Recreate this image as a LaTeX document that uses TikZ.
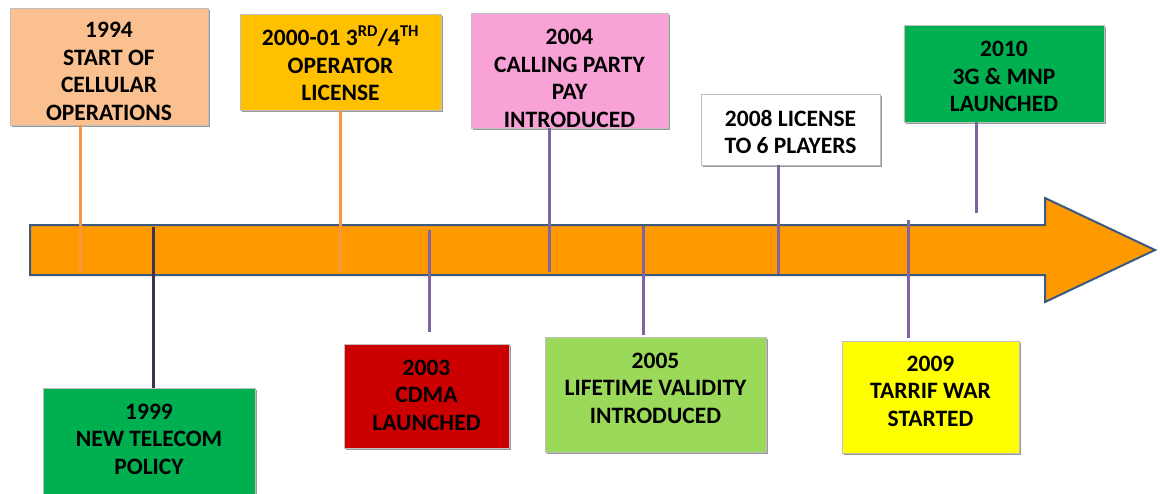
\documentclass[tikz,border=0pt]{standalone}
\usepackage{fontspec}
\setmainfont{Carlito}
\usetikzlibrary{shadows}
\definecolor{peach}{HTML}{FAC090}
\definecolor{gold}{HTML}{FFC000}
\definecolor{pinkbox}{HTML}{F9A2D8}
\definecolor{greenbox}{HTML}{00B050}
\definecolor{redbox}{HTML}{CC0000}
\definecolor{lgreen}{HTML}{9BD95A}
\definecolor{ybox}{HTML}{FFFF00}
\definecolor{arrowfill}{HTML}{FF9900}
\definecolor{arrowline}{HTML}{3A5A80}
\definecolor{lorange}{HTML}{F79646}
\definecolor{lpurple}{HTML}{8064A2}
\definecolor{dpurple}{HTML}{3F3151}
\tikzset{
  evbox/.style={draw=gray!50, line width=0.8pt, inner sep=0pt,
    drop shadow={shadow xshift=1.8pt, shadow yshift=-1.8pt, opacity=0.4, fill=black}},
  evtext/.style={inner sep=0pt, align=center,
    font=\fontsize{23.5}{27.5}\selectfont\bfseries, text=black},
  tick/.style={line width=3pt},
}
\begin{document}
\begin{tikzpicture}[x=1pt,y=-1pt]
\useasboundingbox (0,0) rectangle (1160,493);
% arrow
\draw[fill=arrowfill, draw=arrowline, line width=2pt, line join=miter]
  (30,225) -- (1045,225) -- (1045,198) -- (1155,250) -- (1045,302) -- (1045,275) -- (30,275) -- cycle;
% boxes
\node[evbox, fill=peach, minimum width=198pt, minimum height=117pt] (b1994) at (109,66.5) {};
\node[evbox, fill=gold, minimum width=201pt, minimum height=96pt] (b2000) at (340.5,62) {};
\node[evbox, fill=pinkbox, minimum width=197pt, minimum height=115pt] (b2004) at (569.5,70.5) {};
\node[evbox, fill=white, minimum width=179pt, minimum height=71pt] (b2008) at (790.5,129.5) {};
\node[evbox, fill=greenbox, minimum width=200pt, minimum height=97pt] (b2010) at (1004,73.5) {};
\node[evbox, fill=greenbox, minimum width=212pt, minimum height=110pt] (b1999) at (149,443) {};
\node[evbox, fill=redbox, minimum width=165pt, minimum height=104pt] (b2003) at (426.5,396) {};
\node[evbox, fill=lgreen, minimum width=221pt, minimum height=115pt] (b2005) at (655.5,394.5) {};
\node[evbox, fill=ybox, minimum width=177pt, minimum height=112pt] (b2009) at (930.5,397) {};
% texts
\node[evtext, yshift=-5pt] (x1994) at (b1994.center) {1994\\START OF\\CELLULAR\\OPERATIONS};
\node[evtext, yshift=-1.5pt] (x2000) at (b2000.center) {2000-01 3\textsuperscript{RD}/4\textsuperscript{TH}\\OPERATOR\\LICENSE};
\node[evtext, yshift=-8pt] (x2004) at (b2004.center) {2004\\CALLING PARTY\\PAY\\INTRODUCED};
\node[evtext, yshift=-2.5pt] (x2008) at (b2008.center) {2008 LICENSE\\TO 6 PLAYERS};
\node[evtext, yshift=-3pt] (x2010) at (b2010.center) {2010\\3G \& MNP\\LAUNCHED};
\node[evtext, yshift=4pt] (x1999) at (b1999.center) {1999\\NEW TELECOM\\POLICY};
\node[evtext, yshift=1pt] (x2003) at (b2003.center) {2003\\CDMA\\LAUNCHED};
\node[evtext, yshift=6.5pt] (x2005) at (b2005.center) {2005\\LIFETIME VALIDITY\\INTRODUCED};
\node[evtext, yshift=6pt] (x2009) at (b2009.center) {2009\\TARRIF WAR\\STARTED};
% tick end points
\coordinate (t1994) at (80,272);
\coordinate (t2000) at (340,272);
\coordinate (t2004) at (549,272);
\coordinate (t2008) at (778,274);
\coordinate (t2010) at (976,213);
\coordinate (t1999) at (153,227);
\coordinate (t2003) at (429,230);
\coordinate (t2005) at (643,226);
\coordinate (t2009) at (908,220);
\coordinate (e2003) at (429,332);
\coordinate (e2005) at (643,335);
\coordinate (e2009) at (908,338);
% ticks
\draw[tick, lorange] (t1994 |- b1994.south) -- (t1994);
\draw[tick, lorange] (t2000 |- b2000.south) -- (t2000);
\draw[tick, lpurple] (t2004 |- b2004.south) -- (t2004);
\draw[tick, lpurple] (t2008 |- b2008.south) -- (t2008);
\draw[tick, lpurple] (t2010 |- b2010.south) -- (t2010);
\draw[tick, dpurple] (t1999) -- (t1999 |- b1999.north);
\draw[tick, lpurple] (t2003) -- (e2003);
\draw[tick, lpurple] (t2005) -- (e2005);
\draw[tick, lpurple] (t2009) -- (e2009);
\end{tikzpicture}
\end{document}
